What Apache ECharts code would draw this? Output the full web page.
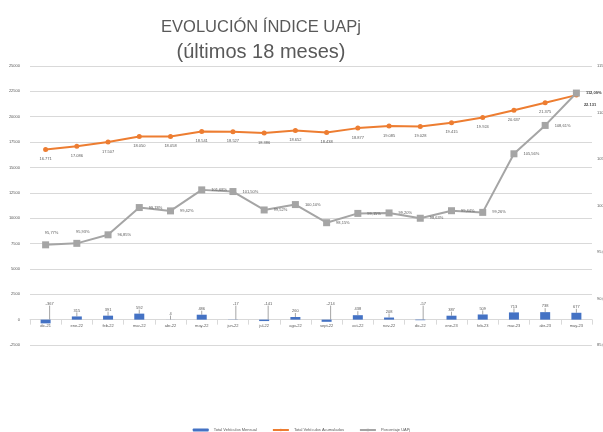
<!DOCTYPE html>
<html>
<head>
<meta charset="utf-8">
<script src="https://cdn.jsdelivr.net/npm/echarts@6/dist/echarts.min.js"></script>
<style>
  html, body { margin: 0; padding: 0; background: #fff; }
  #chart { width: 603px; height: 432px; }
</style>
</head>
<body>
<div id="chart"></div>
<script>
// meses (últimos 18)
var meses = ['dic-21', 'ene-22', 'feb-22', 'mar-22', 'abr-22', 'may-22', 'jun-22', 'jul-22', 'ago-22',
             'sept-22', 'oct-22', 'nov-22', 'dic-22', 'ene-23', 'feb-23', 'mar-23', 'abr-23', 'may-23'];
var mensual = [-367, 315, 391, 592, 4, 486, -17, -141, 260, -214, 438, 208, -57, 387, 509, 713, 738, 677];
var acumulados = [16771, 17086, 17507, 18050, 18058, 18541, 18527, 18386, 18652, 18438, 18877, 19085,
                  19028, 19415, 19924, 20637, 21375, 22131];
var porcentaje = [95.77, 95.93, 96.85, 99.78, 99.42, 101.68, 101.50, 99.52, 100.10, 98.15, 99.15, 99.20,
                  98.63, 99.44, 99.26, 105.56, 108.61, 112.09];

var leftTicks = { min: -2500, max: 25000, step: 2500 };
var rightTicks = { min: 85, max: 115, step: 5 };

function fmtMiles(v) {
    return String(v).replace(/\B(?=(\d{3})+(?!\d))/g, '.');
}
function fmtPct(v) {
    return v.toFixed(2).replace('.', ',') + '%';
}

var FONT = 'Liberation Sans';
var chart = echarts.init(document.getElementById('chart'), null, { renderer: 'canvas' });

var last = meses.length - 1;
var acumData = acumulados.map(function (v, i) {
    if (i === last) {
        return { value: v, label: { fontWeight: 'bold', color: '#404040', position: 'right', offset: [0, 10] } };
    }
    return v;
});
var pctData = porcentaje.map(function (v, i) {
    if (i === last) {
        return { value: v, label: { fontWeight: 'bold', color: '#404040' } };
    }
    if (i < 2) {
        return { value: v, label: { position: 'top', offset: [6, 0] } };
    }
    return v;
});

chart.setOption({
    animation: false,
    backgroundColor: '#fff',
    textStyle: { fontFamily: FONT },
    title: {
        text: '{a|EVOLUCIÓN ÍNDICE UAPj}\n{b|(últimos 18 meses)}',
        left: 256, top: 10, textAlign: 'center',
        textStyle: {
            fontWeight: 'normal',
            rich: {
                a: { fontFamily: FONT, fontSize: 16.5, fontWeight: 'normal', color: '#595959', lineHeight: 24, align: 'center' },
                b: { fontFamily: FONT, fontSize: 20, fontWeight: 'normal', color: '#595959', lineHeight: 27, align: 'center' }
            }
        }
    },
    legend: {
        top: 428, left: 'center', padding: 0,
        itemWidth: 16, itemHeight: 3, itemGap: 15,
        textStyle: { fontSize: 4, color: '#595959' },
        data: ['Total Vehículos Mensual', 'Total Vehículos Acumulados', 'Porcentaje UAPj']
    },
    grid: { left: 30, right: 11, top: 66, bottom: 87, outerBoundsMode: 'none', containLabel: false },
    xAxis: {
        type: 'category',
        data: meses,
        axisLine: { onZero: true, onZeroAxisIndex: 0, lineStyle: { color: '#d9d9d9' } },
        axisTick: { show: true, lineStyle: { color: '#d9d9d9' } },
        axisLabel: { fontSize: 4, color: '#595959', margin: -21 }
    },
    yAxis: [{
        type: 'value',
        min: leftTicks.min, max: leftTicks.max, interval: leftTicks.step,
        axisLine: { show: false }, axisTick: { show: false },
        axisLabel: { fontSize: 4, color: '#595959', margin: 10, formatter: function (v) { return String(v); } },
        splitLine: { lineStyle: { color: '#d9d9d9' } }
    }, {
        type: 'value',
        min: rightTicks.min, max: rightTicks.max, interval: rightTicks.step,
        axisLine: { show: false }, axisTick: { show: false },
        axisLabel: { fontSize: 4, color: '#595959', margin: 5, formatter: function (v) { return fmtPct(v); } },
        splitLine: { show: false }
    }],
    series: [{
        name: 'Total Vehículos Mensual',
        type: 'bar',
        data: mensual,
        barWidth: 10,
        itemStyle: { color: '#4472C4' },
        label: { show: true, position: 'top', fontSize: 4, color: '#595959', distance: 4 },
        labelLine: { show: true, lineStyle: { color: '#a6a6a6', width: 1 } },
        labelLayout: function (p) {
            if (mensual[p.dataIndex] < 0) {
                return { y: p.rect.y - 18 };
            }
            return {};
        }
    }, {
        name: 'Total Vehículos Acumulados',
        type: 'line',
        data: acumData,
        symbol: 'circle', symbolSize: 5,
        lineStyle: { color: '#ED7D31', width: 2 },
        itemStyle: { color: '#ED7D31' },
        label: { show: true, position: 'bottom', distance: 5, fontSize: 4, color: '#595959',
                 formatter: function (p) { return fmtMiles(p.value); } }
    }, {
        name: 'Porcentaje UAPj',
        type: 'line',
        yAxisIndex: 1,
        data: pctData,
        symbol: 'rect', symbolSize: 7,
        lineStyle: { color: '#A5A5A5', width: 2 },
        itemStyle: { color: '#A5A5A5' },
        label: { show: true, position: 'right', distance: 6, fontSize: 4, color: '#595959',
                 formatter: function (p) { return fmtPct(p.value); } }
    }]
});
</script>
</body>
</html>
